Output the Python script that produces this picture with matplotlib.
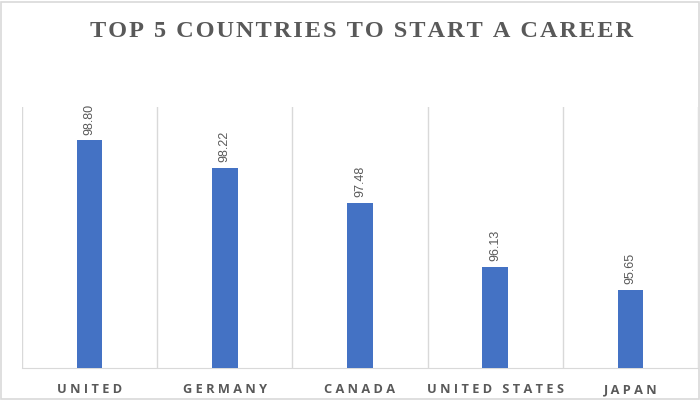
import matplotlib.pyplot as plt
from matplotlib.patches import Rectangle

countries = ['UNITED', 'GERMANY', 'CANADA', 'UNITED STATES', 'JAPAN']
scores = [98.80, 98.22, 97.48, 96.13, 95.65]

bar_color = '#4472C4'
text_color = '#595959'
grid_color = '#d9d9d9'


def spaced(s, gap='\u2009'):
    return gap.join(s)


fig = plt.figure(figsize=(7, 4), dpi=100)
fig.patches.append(Rectangle((0.002, 0.002), 0.996, 0.994, transform=fig.transFigure,
                             fill=False, edgecolor=grid_color, linewidth=1.2))
ax = fig.add_axes([0.0314, 0.08, 0.9657, 0.6525])

x = list(range(len(countries)))
ax.bar(x, scores, width=0.19, color=bar_color, zorder=3)
ax.set_ylim(94.0, 99.5)
ax.set_xlim(-0.5, len(countries) - 0.5)

# category separators
for b in range(len(countries) + 1):
    ax.axvline(b - 0.5, color=grid_color, linewidth=1, zorder=1)

for xi, v in zip(x, scores):
    ax.annotate(f'{v:.2f}', (xi, v), xytext=(0, 4), textcoords='offset points',
                rotation=90, ha='center', va='bottom', fontsize=9,
                color=text_color, family='Liberation Sans')

ax.set_xticks(x)
ax.set_xticklabels([spaced(c, ' ') for c in countries], fontsize=9.2,
                   fontweight='bold', color=text_color, family='Open Sans')
ax.tick_params(axis='x', length=0, pad=11)
ax.set_yticks([])
for side in ['left', 'right', 'top']:
    ax.spines[side].set_visible(False)
ax.spines['bottom'].set_color(grid_color)

fig.text(0.516, 0.922, spaced('TOP 5 COUNTRIES TO START A CAREER', '\u200a'),
         ha='center', va='center', fontsize=17.5, fontweight='bold',
         color=text_color, family='Liberation Serif')

fig.savefig('out.png', dpi=100)
